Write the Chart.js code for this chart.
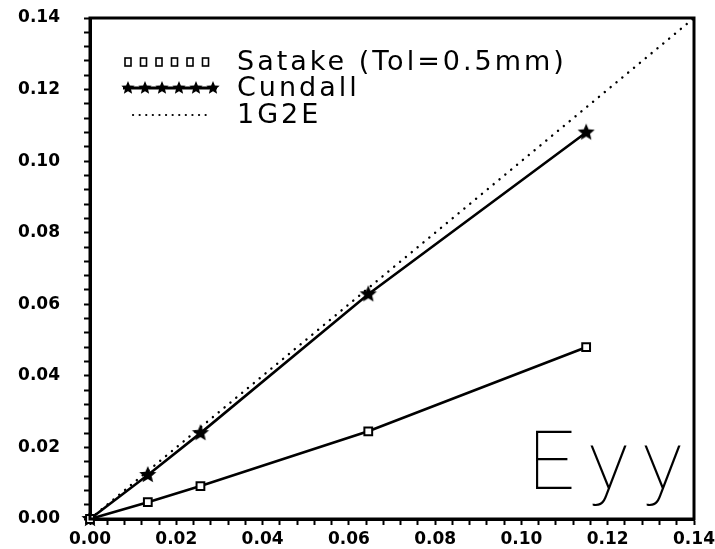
<!DOCTYPE html>
<html>
<head>
<meta charset="utf-8">
<script src="https://cdn.jsdelivr.net/npm/chart.js@4/dist/chart.umd.min.js"></script>
<style>
  html, body { margin: 0; padding: 0; background: #fff; }
  #wrap { width: 715px; height: 549px; }
</style>
</head>
<body>
<div id="wrap"><canvas id="chart" width="715" height="549"></canvas></div>
<script>
// values
const strainX = [0, 0.0134, 0.0256, 0.0645, 0.115];
const satakeY = [0, 0.0047, 0.0092, 0.0245, 0.048];
const cundallY = [0, 0.0123, 0.024, 0.0628, 0.108];
const refX = [0, 0.14];
const refY = [0, 0.14];
const seriesLabels = ['Satake (Tol=0.5mm)', 'Cundall', '1G2E'];
const axisMin = 0;
const axisMax = 0.14;
const minorStep = 0.004;
const majorStep = 0.02;
const cornerText = 'Eyy';

function toPoints(xs, ys) {
    return xs.map((x, i) => ({ x: x, y: ys[i] }));
}

function makeStar(r) {
    const c = document.createElement('canvas');
    c.width = c.height = Math.ceil(r * 2 + 2);
    const g = c.getContext('2d');
    const cx = c.width / 2, cy = c.height / 2;
    g.beginPath();
    for (let i = 0; i < 10; i++) {
        const rad = i % 2 === 0 ? r : r * 0.45;
        const a = -Math.PI / 2 + i * Math.PI / 5;
        g.lineTo(cx + rad * Math.cos(a), cy + rad * Math.sin(a));
    }
    g.closePath();
    g.fillStyle = '#000';
    g.fill();
    return c;
}

const starBig = makeStar(9);

function tickLabel(v) {
    const k = v / majorStep;
    return Math.abs(k - Math.round(k)) < 1e-6 ? v.toFixed(2) : '';
}

const tickFont = { family: 'DejaVu Sans', size: 17, weight: 'bold' };

const framePlugin = {
    id: 'frameLegendText',
    afterDraw(chart) {
        const ctx = chart.ctx;
        const a = chart.chartArea;
        ctx.save();

        // box round the plot
        ctx.strokeStyle = '#000';
        ctx.lineWidth = 3;
        ctx.strokeRect(a.left, a.top, a.right - a.left, a.bottom - a.top);

        // legend
        const mx0 = a.left + 33, mx1 = a.left + 127;
        const tx = a.left + 147;
        const rows = [a.top + 44, a.top + 70, a.top + 97];

        ctx.lineWidth = 1.6;
        for (let i = 0; i < 6; i++) {
            const x = mx0 + 2 + i * 15.5;
            ctx.strokeRect(x, rows[0] - 4, 6, 8);
        }

        ctx.lineWidth = 3;
        ctx.beginPath();
        ctx.moveTo(mx0, rows[1]);
        ctx.lineTo(mx1, rows[1]);
        ctx.stroke();
        const starSmall = makeStar(7);
        for (let i = 0; i < 6; i++) {
            const x = mx0 + 5 + i * 17;
            ctx.drawImage(starSmall, x - starSmall.width / 2, rows[1] - starSmall.height / 2);
        }

        ctx.lineWidth = 2.2;
        ctx.lineCap = 'round';
        ctx.setLineDash([0.1, 6.5]);
        ctx.beginPath();
        ctx.moveTo(mx0 + 10, rows[2]);
        ctx.lineTo(mx1 - 6, rows[2]);
        ctx.stroke();
        ctx.setLineDash([]);

        ctx.fillStyle = '#000';
        ctx.font = '27px "DejaVu Sans"';
        ctx.letterSpacing = '3px';
        ctx.textBaseline = 'middle';
        ctx.textAlign = 'left';
        seriesLabels.forEach((t, i) => ctx.fillText(t, tx, rows[i] + 1));

        // big label in the lower right corner
        ctx.font = '100 82px Roboto, "DejaVu Sans"';
        ctx.letterSpacing = '15px';
        ctx.textBaseline = 'alphabetic';
        ctx.fillText(cornerText, a.right - 166, a.bottom - 30);

        ctx.restore();
    }
};

new Chart(document.getElementById('chart'), {
    type: 'scatter',
    data: {
        datasets: [
            {
                label: seriesLabels[2],
                data: toPoints(refX, refY),
                showLine: true,
                borderColor: '#000',
                borderWidth: 2.4,
                borderDash: [0.1, 7.5],
                borderCapStyle: 'round',
                pointRadius: 0,
                order: 3
            },
            {
                label: seriesLabels[1],
                data: toPoints(strainX, cundallY),
                showLine: true,
                borderColor: '#000',
                borderWidth: 2.6,
                pointStyle: starBig,
                pointRadius: 8,
                order: 2
            },
            {
                label: seriesLabels[0],
                data: toPoints(strainX, satakeY),
                showLine: true,
                borderColor: '#000',
                borderWidth: 2.6,
                pointStyle: 'rect',
                pointRadius: 5.5,
                pointBorderWidth: 2,
                pointBackgroundColor: '#fff',
                order: 1
            }
        ]
    },
    options: {
        responsive: false,
        animation: false,
        clip: false,
        layout: { padding: { top: 18, right: 21, bottom: 0, left: 0 } },
        plugins: {
            legend: { display: false },
            tooltip: { enabled: false }
        },
        scales: {
            x: {
                type: 'linear',
                min: axisMin,
                max: axisMax,
                afterFit: (s) => {
                    s.height = 30;
                    s.paddingLeft = 0;
                    s.paddingRight = 0;
                },
                border: { display: true, color: '#000', width: 3 },
                grid: { drawOnChartArea: false, drawTicks: true, tickLength: 6, tickWidth: 2, tickColor: '#000' },
                ticks: {
                    stepSize: minorStep,
                    autoSkip: false,
                    maxRotation: 0,
                    padding: 4,
                    color: '#000',
                    font: tickFont,
                    callback: tickLabel
                }
            },
            y: {
                type: 'linear',
                min: axisMin,
                max: axisMax,
                afterFit: (s) => {
                    s.width = 90;
                    s.paddingTop = 0;
                    s.paddingBottom = 0;
                },
                border: { display: true, color: '#000', width: 3 },
                grid: { drawOnChartArea: false, drawTicks: true, tickLength: 6, tickWidth: 2, tickColor: '#000' },
                ticks: {
                    stepSize: minorStep,
                    autoSkip: false,
                    padding: 24,
                    color: '#000',
                    font: tickFont,
                    callback: tickLabel
                }
            }
        }
    },
    plugins: [framePlugin]
});
</script>
</body>
</html>
